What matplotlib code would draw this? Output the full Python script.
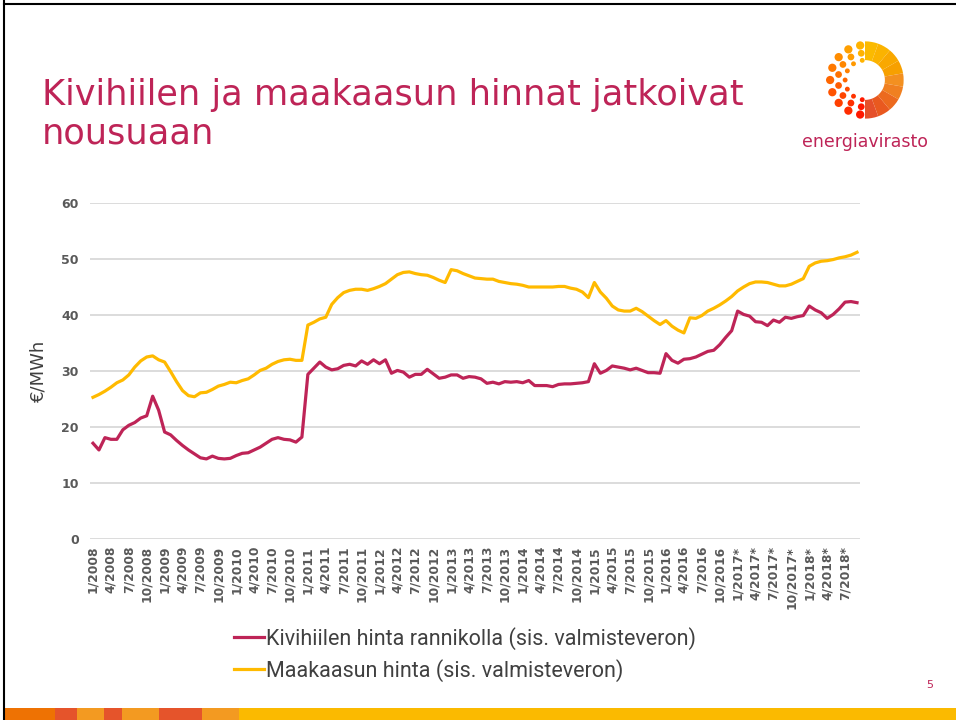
import numpy as np
import matplotlib
matplotlib.use("Agg")
import matplotlib.pyplot as plt
from matplotlib.patches import Wedge, Circle, Rectangle
from matplotlib.lines import Line2D

# monthly series 1/2008 .. 9/2018, EUR/MWh
coal = [17.1, 15.9, 18.1, 17.8, 17.8, 19.5, 20.3, 20.8, 21.6, 22.0,
        25.5, 23.0, 19.1, 18.6, 17.6, 16.7, 15.9, 15.2, 14.5, 14.3,
        14.8, 14.4, 14.3, 14.4, 14.9, 15.3, 15.4, 15.9, 16.4, 17.1,
        17.8, 18.1, 17.8, 17.7, 17.3, 18.2, 29.4, 30.5, 31.6, 30.7, 30.2,
        30.4, 31.0, 31.2, 30.9, 31.8, 31.2, 32.0, 31.3, 32.0, 29.6,
        30.1, 29.8, 28.9, 29.4, 29.4, 30.3, 29.5, 28.7, 28.9, 29.3,
        29.3, 28.7, 29.0, 28.9, 28.6, 27.8, 28.0, 27.7, 28.1, 28.0,
        28.1, 27.9, 28.3, 27.4, 27.4, 27.4, 27.2, 27.6, 27.7, 27.7,
        27.8, 27.9, 28.1, 31.3, 29.6, 30.1, 30.9, 30.7, 30.5, 30.2,
        30.5, 30.1, 29.7, 29.7, 29.6, 33.1, 31.9, 31.4, 32.1, 32.2,
        32.5, 33.0, 33.5, 33.7, 34.7, 36.0, 37.2, 40.7, 40.1, 39.8,
        38.8, 38.7, 38.1, 39.1, 38.7, 39.6, 39.4, 39.7, 39.9, 41.6,
        40.9, 40.4, 39.4, 40.1, 41.1, 42.3, 42.4, 42.2]
gas = [25.3, 25.8, 26.4, 27.1, 27.9, 28.4, 29.3, 30.7, 31.8, 32.5,
       32.7, 32.0, 31.6, 29.9, 28.1, 26.5, 25.6, 25.4, 26.1, 26.2,
       26.7, 27.3, 27.6, 28.0, 27.9, 28.3, 28.6, 29.3, 30.1, 30.5,
       31.2, 31.7, 32.0, 32.1, 31.9, 31.9, 38.2, 38.7, 39.3, 39.6,
       41.9, 43.1, 44.0, 44.4, 44.6, 44.6, 44.4, 44.7, 45.1, 45.6,
       46.4, 47.2, 47.6, 47.7, 47.4, 47.2, 47.1, 46.7, 46.2, 45.8,
       48.1, 47.9, 47.4, 47.0, 46.6, 46.5, 46.4, 46.4, 46.0, 45.8,
       45.6, 45.5, 45.3, 45.0, 45.0, 45.0, 45.0, 45.0, 45.1, 45.1,
       44.8, 44.6, 44.1, 43.1, 45.8, 44.1, 43.0, 41.6, 40.9, 40.7,
       40.7, 41.2, 40.6, 39.8, 39.0, 38.3, 39.0, 38.0, 37.3, 36.8,
       39.5, 39.4, 39.9, 40.7, 41.2, 41.8, 42.5, 43.3, 44.3, 45.0,
       45.6, 45.9, 45.9, 45.8, 45.5, 45.2, 45.2, 45.5, 46.0, 46.5,
       48.7, 49.3, 49.6, 49.7, 49.9, 50.2, 50.4, 50.7, 51.2]

months = []
for y in range(2008, 2019):
    for m in range(1, 13):
        star = "*" if y >= 2017 else ""
        months.append("%d/%d%s" % (m, y, star))
months = months[:len(coal)]

title = "Kivihiilen ja maakaasun hinnat jatkoivat\nnousuaan"
coal_label = "Kivihiilen hinta rannikolla (sis. valmisteveron)"
gas_label = "Maakaasun hinta (sis. valmisteveron)"

crimson = "#BE2457"
gold = "#FFBA00"
W, H = 956, 720

fig = plt.figure(figsize=(W / 100, H / 100), dpi=100)

# slide frame
fig.add_artist(Line2D([4 / W, 4 / W], [0, 1], color="black", lw=1.5))
fig.add_artist(Line2D([4 / W, 1], [1 - 4 / H, 1 - 4 / H], color="black", lw=1.5))

# bottom colour band
band = [(5, 55, "#EE7203"), (55, 77, "#E5542B"), (77, 104, "#F39A21"),
        (104, 122, "#E5542B"), (122, 159, "#F39A21"), (159, 202, "#E5542B"),
        (202, 239, "#F39A21"), (239, 956, "#FBBA00")]
for x0, x1, c in band:
    fig.add_artist(Rectangle((x0 / W, 0), (x1 - x0) / W, 12 / H,
                             transform=fig.transFigure, color=c, lw=0))

fig.text(42 / W, 1 - 78 / H, title, color=crimson, fontsize=25.3,
         va="top", ha="left", linespacing=1.15)
fig.text(930 / W, 1 - 685 / H, "5", color=crimson, fontsize=8,
         ha="center", va="center")

# logo
lax = fig.add_axes([820 / W, 1 - 125 / H, 90 / W, 90 / H])
lax.set_xlim(-1.2, 1.2)
lax.set_ylim(-1.2, 1.2)
lax.set_aspect("equal")
lax.axis("off")
ring_cols = ["#FBBA00", "#FBB300", "#F9A800", "#F7A000", "#F39020",
             "#F08020", "#EC6A1E", "#E9591F", "#E5502A"]
n = len(ring_cols)
for k, c in enumerate(ring_cols):
    a0 = 90 - 180 * (k + 1) / n
    a1 = 90 - 180 * k / n
    lax.add_patch(Wedge((0, 0), 1.03, a0, a1, width=0.5, color=c, lw=0))
for r, s, cnt in [(0.93, 0.11, 9), (0.72, 0.09, 8), (0.53, 0.065, 7)]:
    for ang in np.linspace(98, 262, cnt):
        t = np.radians(ang)
        f = (ang - 98) / 164
        c = plt.cm.autumn_r(0.3 + 0.6 * f)
        lax.add_patch(Circle((r * np.cos(t), r * np.sin(t)), s, color=c, lw=0))
fig.text(865 / W, 1 - 142 / H, "energiavirasto", color=crimson,
         fontsize=12.5, ha="center", va="center")

# chart
ax = fig.add_axes([90 / W, 1 - 539 / H, 770 / W, 336 / H])
x = np.arange(len(coal))
ax.plot(x, coal, color=crimson, lw=2.3, solid_joinstyle="round")
ax.plot(x, gas, color=gold, lw=2.3, solid_joinstyle="round")
ax.set_xlim(-0.5, len(coal) - 0.5)
ax.set_ylim(0, 60)
ax.set_yticks(range(0, 61, 10))
ax.grid(axis="y", color="#D9D9D9", lw=1.3)
ax.set_axisbelow(True)
for s in ax.spines.values():
    s.set_visible(False)
ax.set_xticks(x[::3])
ax.set_xticklabels(months[::3], rotation=90, fontsize=8.8,
                   fontweight="bold", color="#595959")
ax.tick_params(axis="both", length=0)
ax.tick_params(axis="x", pad=5)
ax.tick_params(axis="y", pad=8)
for lab in ax.get_yticklabels():
    lab.set_fontweight("bold")
    lab.set_color("#595959")
    lab.set_fontsize(9)
ax.set_ylabel("€/MWh", fontsize=13, color="#404040", labelpad=10)

handles = [Line2D([], [], color=crimson, lw=2.3),
           Line2D([], [], color=gold, lw=2.3)]
fig.legend(handles, [coal_label, gas_label], loc="upper left",
           bbox_to_anchor=(234 / W, 1 - 627 / H), frameon=False,
           prop={"family": ["Roboto", "DejaVu Sans"], "size": 15.5},
           labelcolor="#404040", handlelength=1.4, handletextpad=0.1,
           labelspacing=0.42, borderaxespad=0, borderpad=0)

fig.savefig("out.png", dpi=100)
